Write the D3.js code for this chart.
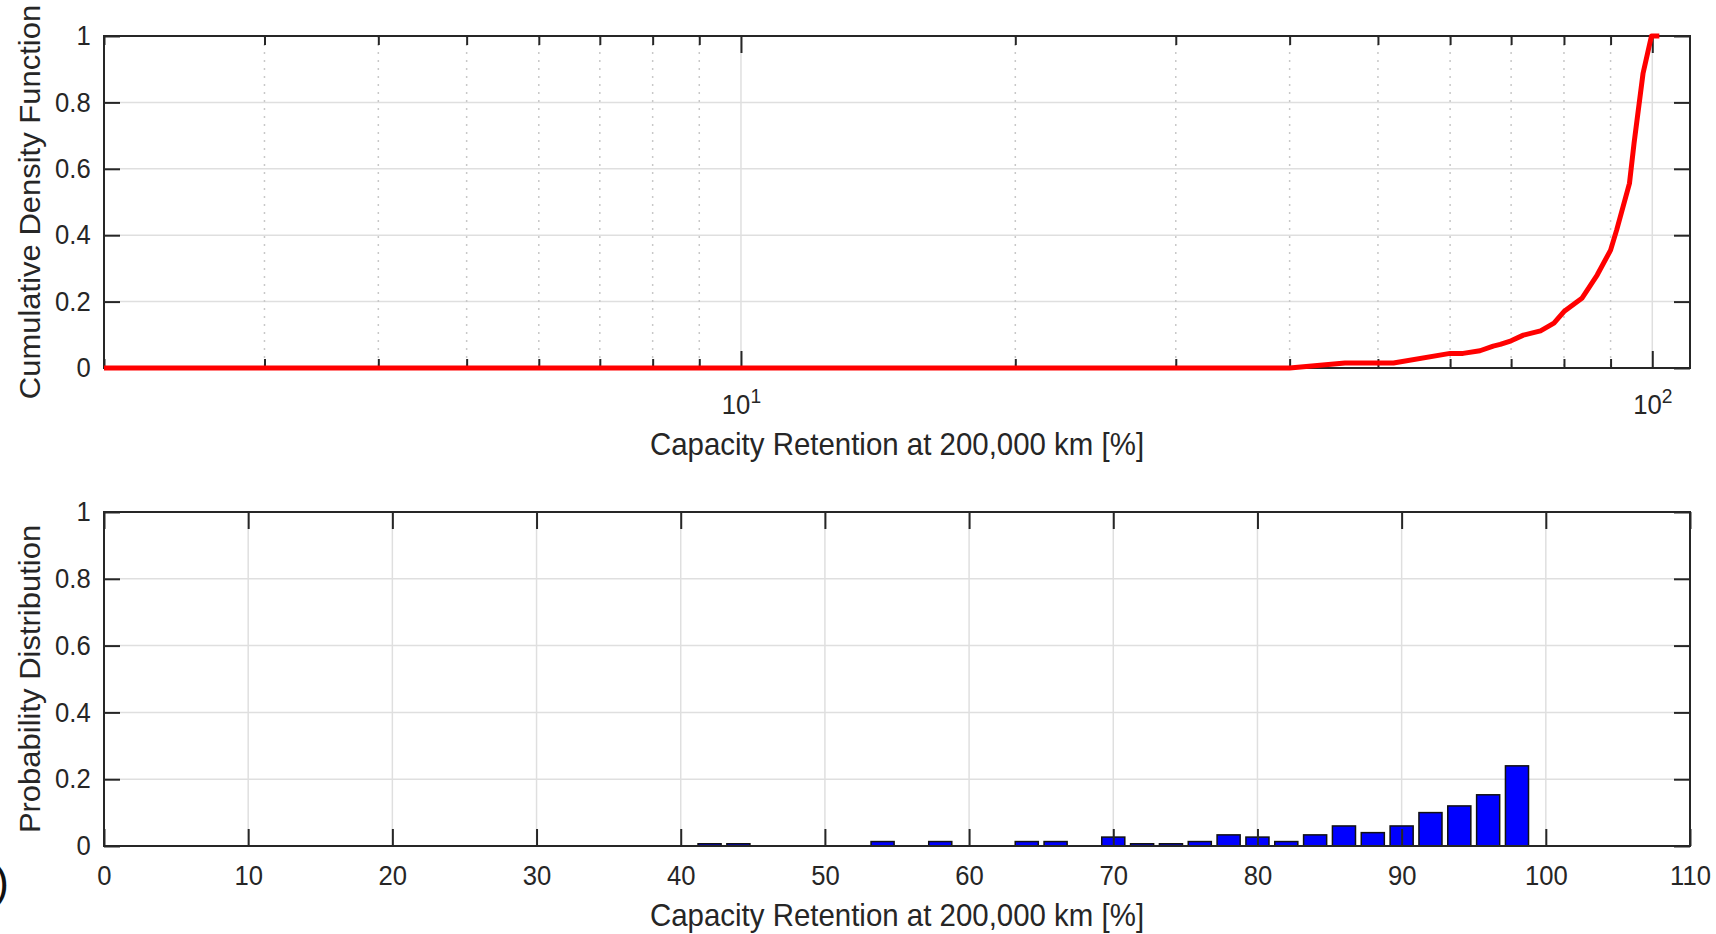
<!DOCTYPE html>
<html lang="en">
<head>
<meta charset="UTF-8">
<title>Capacity Retention CDF and distribution</title>
<style>
    body { margin: 0; background: #fff; }
    svg { display: block; font-family: "Liberation Sans", Arial, Helvetica, sans-serif; }
    .tick text { fill: #262626; }
    .axis-label { fill: #262626; font-size: 31px; }
</style>
</head>
<body>
<svg width="1716" height="934"></svg>
<script src="https://d3js.org/d3.v7.min.js"></script>
<script>
// CDF curve
const cdfX = [2, 40, 46, 52, 60, 62, 64.7, 66.9, 68.1, 70, 72.2, 75.4, 78, 80, 83.7, 87, 90, 91.4, 94.4, 95.5, 97.7, 99.8, 101.8];
const cdfY = [0, 0, 0.015, 0.015, 0.044, 0.044, 0.052, 0.066, 0.071, 0.082, 0.099, 0.112, 0.135, 0.17, 0.21, 0.28, 0.355, 0.416, 0.556, 0.677, 0.888, 1, 1];

// histogram (bottom panel)
const binCenters = [42, 44, 54, 58, 64, 66, 70, 72, 74, 76, 78, 80, 82, 84, 86, 88, 90, 92, 94, 96, 98];
const binProb = [0.0067, 0.0067, 0.0133, 0.0133, 0.0133, 0.0133, 0.0267, 0.0067, 0.0067, 0.0133, 0.0333,
                 0.0267, 0.0133, 0.0333, 0.06, 0.04, 0.06, 0.1, 0.12, 0.1533, 0.24];
const binWidth = 1.6;

const yTicks = [0, 0.2, 0.4, 0.6, 0.8, 1];
const logMajor = [10, 100];
const logMinor = [2, 3, 4, 5, 6, 7, 8, 9, 20, 30, 40, 50, 60, 70, 80, 90];
const linTicks = [0, 10, 20, 30, 40, 50, 60, 70, 80, 90, 100, 110];

const xLabel = "Capacity Retention at 200,000 km [%]";

const svg = d3.select("svg");
const L = 104, R = 1690;
const axisColor = "#262626";
const gridColor = "#dfdfdf";
const tickFont = 27;
const squeeze = "scale(0.95,1)"; // the original's lettering is a little narrow

function styleAxis(g) {
    g.select(".domain").remove();
    g.selectAll(".tick line").attr("stroke", axisColor).attr("stroke-width", 2);
    g.selectAll(".tick text").attr("font-size", tickFont).attr("transform", squeeze);
}

function box(top, bottom) {
    svg.append("rect")
        .attr("x", L).attr("y", top)
        .attr("width", R - L).attr("height", bottom - top)
        .attr("fill", "none").attr("stroke", axisColor).attr("stroke-width", 2);
}

function yAxes(y) {
    svg.append("g").attr("transform", `translate(${L},0)`)
        .call(d3.axisLeft(y).tickValues(yTicks).tickSize(-16).tickPadding(14).tickFormat(d3.format("")))
        .call(styleAxis);
    svg.append("g").attr("transform", `translate(${R},0)`)
        .call(d3.axisRight(y).tickValues(yTicks).tickSize(-16).tickFormat(""))
        .call(styleAxis);
}

function xTitle(y) {
    svg.append("text").attr("class", "axis-label")
        .attr("transform", `translate(${(L + R) / 2},${y}) ${squeeze}`)
        .attr("text-anchor", "middle").text(xLabel);
}

function yTitle(mid, label) {
    svg.append("text").attr("class", "axis-label")
        .attr("transform", `translate(40,${mid}) scale(0.95,1) rotate(-90)`)
        .attr("text-anchor", "middle").text(label);
}

// ---------- top panel: CDF on log x ----------
const t0 = 36, t1 = 368;
const xLog = d3.scaleLog().domain([2, 110]).range([L, R]);
const yTop = d3.scaleLinear().domain([0, 1]).range([t1, t0]);

const gTop = svg.append("g");
gTop.selectAll(".hgrid").data(yTicks.slice(1, -1)).enter().append("line")
    .attr("x1", L).attr("x2", R).attr("y1", d => yTop(d)).attr("y2", d => yTop(d))
    .attr("stroke", gridColor).attr("stroke-width", 1.5);
gTop.selectAll(".minorgrid").data(logMinor.slice(1)).enter().append("line")
    .attr("x1", d => xLog(d)).attr("x2", d => xLog(d)).attr("y1", t0).attr("y2", t1)
    .attr("stroke", "#c8c8c8").attr("stroke-width", 1.5).attr("stroke-dasharray", "2,6");
gTop.selectAll(".majorgrid").data(logMajor).enter().append("line")
    .attr("x1", d => xLog(d)).attr("x2", d => xLog(d)).attr("y1", t0).attr("y2", t1)
    .attr("stroke", gridColor).attr("stroke-width", 1.5);

box(t0, t1);

// minor ticks bottom/top
svg.append("g").attr("transform", `translate(0,${t1})`)
    .call(d3.axisBottom(xLog).tickValues(logMinor).tickSize(-9).tickFormat(""))
    .call(styleAxis);
svg.append("g").attr("transform", `translate(0,${t0})`)
    .call(d3.axisTop(xLog).tickValues(logMinor).tickSize(-9).tickFormat(""))
    .call(styleAxis);
// major ticks with 10^n labels
const majTop = svg.append("g").attr("transform", `translate(0,${t1})`)
    .call(d3.axisBottom(xLog).tickValues(logMajor).tickSize(-17).tickFormat(""))
    .call(styleAxis);
majTop.selectAll(".tick").append("text")
    .attr("y", 46).attr("text-anchor", "middle").attr("font-size", tickFont).attr("fill", axisColor)
    .attr("transform", squeeze)
    .each(function(d) {
        const t = d3.select(this);
        t.append("tspan").text("10");
        t.append("tspan").attr("dy", "-0.55em").attr("font-size", "0.75em").text(Math.round(Math.log10(d)));
    });
svg.append("g").attr("transform", `translate(0,${t0})`)
    .call(d3.axisTop(xLog).tickValues(logMajor).tickSize(-17).tickFormat(""))
    .call(styleAxis);

yAxes(yTop);
xTitle(455);
yTitle((t0 + t1) / 2, "Cumulative Density Function");

const cdfPts = cdfX.map((x, i) => [x, cdfY[i]]);
svg.append("path").datum(cdfPts)
    .attr("fill", "none").attr("stroke", "#ff0000").attr("stroke-width", 5)
    .attr("stroke-linejoin", "round")
    .attr("d", d3.line().x(d => xLog(d[0])).y(d => yTop(d[1])));

// ---------- bottom panel: histogram ----------
const b0 = 512, b1 = 846;
const xLin = d3.scaleLinear().domain([0, 110]).range([L, R]);
const yBot = d3.scaleLinear().domain([0, 1]).range([b1, b0]);

const gBot = svg.append("g");
gBot.selectAll(".hgrid").data(yTicks.slice(1, -1)).enter().append("line")
    .attr("x1", L).attr("x2", R).attr("y1", d => yBot(d)).attr("y2", d => yBot(d))
    .attr("stroke", gridColor).attr("stroke-width", 1.5);
gBot.selectAll(".vgrid").data(linTicks.slice(1, -1)).enter().append("line")
    .attr("x1", d => xLin(d)).attr("x2", d => xLin(d)).attr("y1", b0).attr("y2", b1)
    .attr("stroke", gridColor).attr("stroke-width", 1.5);

gBot.selectAll(".bar").data(binCenters).enter().append("rect")
    .attr("x", d => xLin(d - binWidth / 2))
    .attr("width", xLin(binWidth) - xLin(0))
    .attr("y", (d, i) => yBot(binProb[i]))
    .attr("height", (d, i) => yBot(0) - yBot(binProb[i]))
    .attr("fill", "#0000ff").attr("stroke", "#111").attr("stroke-width", 1.5);

box(b0, b1);

const xb = svg.append("g").attr("transform", `translate(0,${b1})`)
    .call(d3.axisBottom(xLin).tickValues(linTicks).tickSize(-17).tickFormat(d3.format("d")))
    .call(styleAxis);
xb.selectAll(".tick text").attr("y", 39).attr("dy", null);
svg.append("g").attr("transform", `translate(0,${b0})`)
    .call(d3.axisTop(xLin).tickValues(linTicks).tickSize(-17).tickFormat(""))
    .call(styleAxis);

yAxes(yBot);
xTitle(926);
yTitle((b0 + b1) / 2, "Probability Distribution");

// panel tag, cut off at the left edge in the original
svg.append("text").attr("x", 9).attr("y", 897).attr("text-anchor", "end")
    .attr("font-size", 44).attr("fill", "#111").text("(b)");
</script>
</body>
</html>
